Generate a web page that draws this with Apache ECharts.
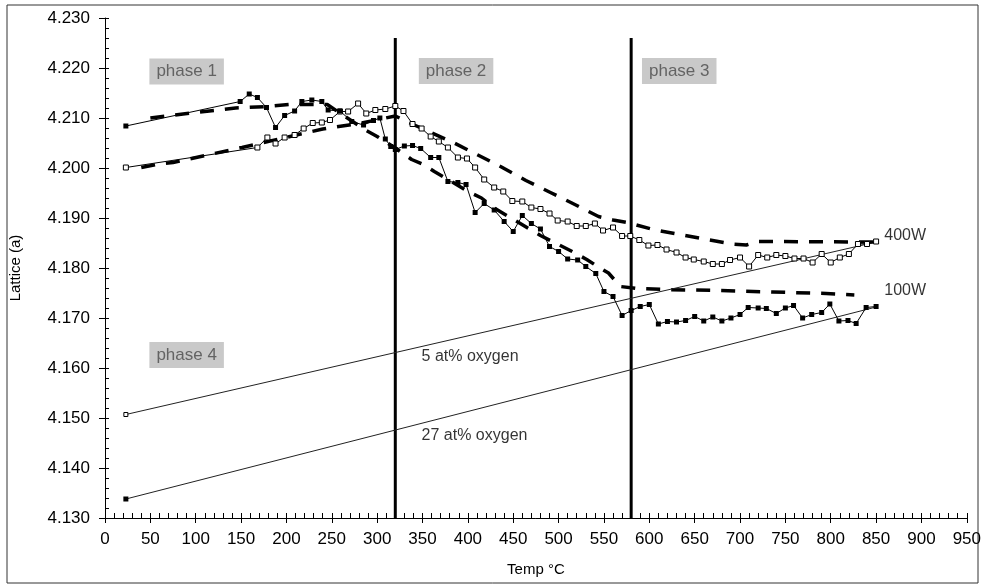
<!DOCTYPE html>
<html><head><meta charset="utf-8">
<script src="https://cdn.jsdelivr.net/npm/echarts@6/dist/echarts.min.js"></script>
<style>html,body{margin:0;padding:0;background:#fff}#c{width:984px;height:588px}</style>
</head><body><div id="c"></div>
<script>
// ---- data ----
var temp400 = [23,168,179,188,198,209,219,229,239,248,259,268,279,288,298,309,320,329,339,349,359,368,378,389,399,408,418,429,439,449,460,470,480,490,499,510,520,530,540,549,560,570,579,589,599,609,619,630,640,649,660,670,680,689,700,710,720,730,740,750,760,770,780,790,800,810,820,830,840,850];
var lat400  = [4.2001,4.2041,4.2061,4.2049,4.2061,4.2066,4.2079,4.2090,4.2091,4.2096,4.2113,4.2113,4.2129,4.2109,4.2116,4.2118,4.2124,4.2114,4.2088,4.2079,4.2063,4.2053,4.2041,4.2021,4.2019,4.2001,4.1977,4.1961,4.1953,4.1934,4.1933,4.1921,4.1918,4.1909,4.1895,4.1893,4.1884,4.1884,4.1889,4.1875,4.1881,4.1864,4.1864,4.1856,4.1845,4.1846,4.1837,4.1831,4.1821,4.1817,4.1813,4.1808,4.1808,4.1816,4.1821,4.1803,4.1826,4.1821,4.1826,4.1824,4.1819,4.1819,4.1811,4.1828,4.1811,4.1821,4.1828,4.1848,4.1848,4.1853];
var temp100 = [23,149,159,168,178,188,198,209,217,228,239,246,259,272,285,296,303,309,315,320,330,339,348,359,368,378,389,398,408,418,429,440,450,460,470,480,490,500,510,521,530,541,550,560,570,580,590,600,610,620,630,640,650,660,670,680,690,700,709,720,729,740,750,759,769,779,790,799,809,819,828,839,850];
var lat100  = [4.2084,4.2133,4.2148,4.2141,4.2121,4.2081,4.2105,4.2114,4.2133,4.2136,4.2133,4.2116,4.2114,4.2093,4.2086,4.2095,4.2100,4.2058,4.2043,4.2037,4.2044,4.2045,4.2039,4.2021,4.2021,4.1973,4.1971,4.1967,4.1911,4.1929,4.1916,4.1893,4.1873,4.1905,4.1889,4.1878,4.1843,4.1833,4.1818,4.1816,4.1803,4.1789,4.1753,4.1743,4.1705,4.1715,4.1723,4.1727,4.1688,4.1693,4.1692,4.1695,4.1703,4.1694,4.1702,4.1694,4.1700,4.1707,4.1721,4.1720,4.1719,4.1709,4.1720,4.1725,4.1700,4.1707,4.1711,4.1728,4.1694,4.1695,4.1689,4.1721,4.1723];
var fitTemp400 = [40,60,75,151,240,283,320,341,357,385,411,437,464,491,519,544,560,576,604,634,663,692,707,720,850];
var fitLat400  = [4.2001,4.2008,4.2011,4.2041,4.2078,4.2090,4.2104,4.2086,4.2073,4.2050,4.2026,4.2002,4.1975,4.1951,4.1926,4.1903,4.1896,4.1891,4.1877,4.1867,4.1857,4.1848,4.1846,4.1853,4.1852];
var fitTemp100 = [50,86,115,144,179,203,245,287,300,320,338,351,363,378,400,415,429,466,480,515,531,543,555,568,586,616,676,736,795,826];
var fitLat100  = [4.2100,4.2108,4.2114,4.2120,4.2123,4.2127,4.2127,4.2076,4.2063,4.2040,4.2017,4.2007,4.1993,4.1977,4.1953,4.1940,4.1920,4.1880,4.1865,4.1833,4.1817,4.1803,4.1790,4.1763,4.1759,4.1757,4.1755,4.1752,4.1749,4.1746];
var oxy5Temp = [23,850],  oxy5Lat = [4.1507,4.1852];
var oxy27Temp = [23,850], oxy27Lat = [4.1338,4.1722];
var phaseBounds = [320,580];
var boundLat = [4.130,4.226];
var phaseNames = ['phase 1','phase 2','phase 3','phase 4'];
var phaseTemp  = [90,387,633,90];
var phaseLat   = [4.2193,4.2194,4.2194,4.1626];
var noteNames = ['5 at% oxygen','27 at% oxygen','400W','100W'];
var noteTemp  = [349,349,859,859];
var noteLat   = [4.1622,4.1465,4.1864,4.1754];
var xTicks = {min:0,max:950,step:50};
var yTicks = {min:4.13,max:4.23,step:0.01};

function zip(a,b){return a.map(function(v,i){return [v,b[i]];});}
var FONT = 'Liberation Sans, Arial, sans-serif';
var series = [];
// phase boundaries
phaseBounds.forEach(function(t){
  series.push({type:'line',data:zip([t,t],boundLat),symbol:'none',lineStyle:{color:'#000',width:3},z:1,silent:true});
});
series.push({type:'line',name:'fit400',data:zip(fitTemp400,fitLat400),symbol:'none',lineStyle:{color:'#000',width:3.5,type:[14,11]},z:2});
series.push({type:'line',name:'fit100',data:zip(fitTemp100,fitLat100),symbol:'none',lineStyle:{color:'#000',width:3.5,type:[14,11]},z:2});
series.push({type:'line',name:'5 at%',data:[{value:[oxy5Temp[0],oxy5Lat[0]],symbol:'rect',symbolSize:4},{value:[oxy5Temp[1],oxy5Lat[1]],symbol:'none'}],
  itemStyle:{color:'#fff',borderColor:'#000',borderWidth:1},lineStyle:{color:'#222',width:1},z:3});
series.push({type:'line',name:'27 at%',data:[{value:[oxy27Temp[0],oxy27Lat[0]],symbol:'rect',symbolSize:5},{value:[oxy27Temp[1],oxy27Lat[1]],symbol:'none'}],
  itemStyle:{color:'#000'},lineStyle:{color:'#222',width:1},z:3});
series.push({type:'line',name:'400W',data:zip(temp400,lat400),symbol:'rect',symbolSize:5,showAllSymbol:true,
  itemStyle:{color:'#fff',borderColor:'#000',borderWidth:1},lineStyle:{color:'#000',width:1},z:4});
series.push({type:'line',name:'100W',data:zip(temp100,lat100),symbol:'rect',symbolSize:5,showAllSymbol:true,
  itemStyle:{color:'#000'},lineStyle:{color:'#000',width:1},z:4});
series.push({type:'scatter',data:phaseTemp.map(function(t,i){return {value:[t,phaseLat[i]],name:phaseNames[i]};}),symbolSize:0,z:5,
  label:{show:true,position:'inside',formatter:'{b}',color:'#4a4a4a',fontFamily:FONT,fontSize:17,backgroundColor:'#bcbcbc',padding:[5,7,4,7]}});
series.push({type:'scatter',data:noteTemp.map(function(t,i){return {value:[t,noteLat[i]],name:noteNames[i]};}),symbolSize:0,z:5,
  label:{show:true,position:'right',distance:0,formatter:'{b}',color:'#000',fontFamily:FONT,fontSize:16}});

var axisCommon = {axisLine:{show:true,lineStyle:{color:'#000',width:1}},splitLine:{show:false}};
var option = {
  animation:false,
  backgroundColor:'#fff',
  grid:{left:102,right:16,top:18,bottom:70,containLabel:false},
  xAxis:[
    Object.assign({type:'value',min:xTicks.min,max:xTicks.max,interval:xTicks.step,position:'bottom',
      axisTick:{show:true,inside:false,length:5,lineStyle:{color:'#000'}},
      axisLabel:{color:'#000',fontFamily:FONT,fontSize:17,margin:13},
      name:'Temp °C',nameLocation:'middle',nameGap:44,nameTextStyle:{color:'#000',fontFamily:FONT,fontSize:15}},axisCommon),
    {type:'value',min:xTicks.min,max:xTicks.max,interval:10,position:'bottom',axisLine:{show:false},
      axisTick:{show:true,inside:true,length:5,lineStyle:{color:'#000'}},axisLabel:{show:false},splitLine:{show:false}}
  ],
  yAxis:[
    Object.assign({type:'value',min:yTicks.min,max:yTicks.max,interval:yTicks.step,position:'left',
      axisTick:{show:true,inside:false,length:6,lineStyle:{color:'#000'}},
      axisLabel:{color:'#000',fontFamily:FONT,fontSize:17,margin:15,formatter:function(v){return v.toFixed(3);}},
      name:'Lattice (a)',nameLocation:'middle',nameGap:82,nameRotate:90,nameTextStyle:{color:'#000',fontFamily:FONT,fontSize:15}},axisCommon),
    {type:'value',min:yTicks.min,max:yTicks.max,interval:0.002,position:'left',axisLine:{show:false},
      axisTick:{show:true,inside:true,length:4,lineStyle:{color:'#000'}},axisLabel:{show:false},splitLine:{show:false}}
  ],
  graphic:[{type:'rect',shape:{x:7,y:5,width:971,height:578},style:{fill:null,stroke:'#333',lineWidth:1},silent:true}],
  series:series
};
echarts.init(document.getElementById('c'),null,{renderer:'canvas'}).setOption(option);
</script></body></html>
